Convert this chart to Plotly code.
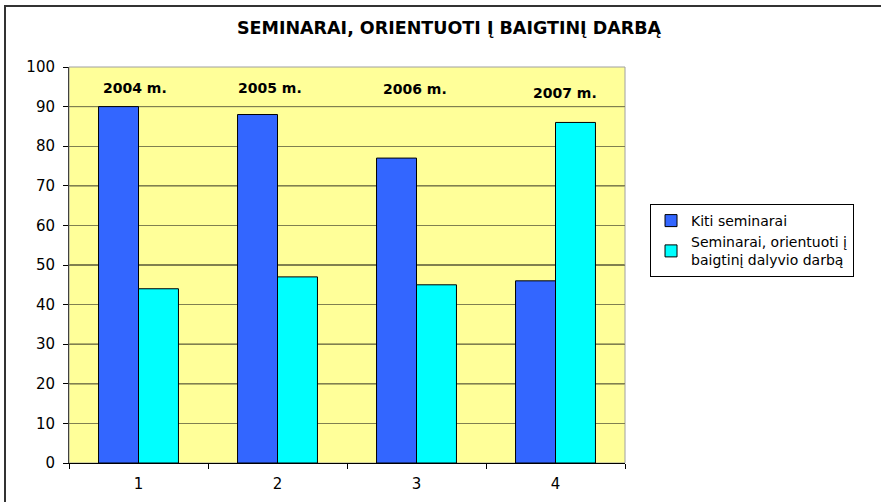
import plotly.graph_objects as go

categories = ["1", "2", "3", "4"]
kiti = [90, 88, 77, 46]
orientuoti = [44, 47, 45, 86]
year_labels = ["2004 m.", "2005 m.", "2006 m.", "2007 m."]
year_label_y = [94.7, 94.7, 94.5, 93.4]
year_label_dx = [-4, -8, -2, 9]
y_ticks = [0, 10, 20, 30, 40, 50, 60, 70, 80, 90, 100]
dark_grid = [20, 30, 50, 70, 90]

FONT = "DejaVu Sans, Verdana, sans-serif"

fig = go.Figure()
fig.add_trace(go.Bar(
    x=categories, y=kiti, name="Kiti seminarai",
    marker=dict(color="#3366FF", line=dict(color="#000000", width=1)),
))
fig.add_trace(go.Bar(
    x=categories, y=orientuoti, name="Seminarai, orientuoti į<br>baigtinį dalyvio darbą",
    marker=dict(color="#00FFFF", line=dict(color="#000000", width=1)),
))

for i, (lab, yy, dx) in enumerate(zip(year_labels, year_label_y, year_label_dx)):
    fig.add_annotation(x=i, y=yy, text="<b>" + lab + "</b>", showarrow=False,
                       xshift=dx, font=dict(family=FONT, size=14, color="#000000"))

shapes = []
for v in dark_grid:
    shapes.append(dict(type="line", xref="paper", yref="y", x0=0, x1=1, y0=v, y1=v,
                       line=dict(color="#000000", width=1), layer="below"))
# plot area border (gray)
shapes.append(dict(type="rect", xref="paper", yref="paper", x0=0, x1=1, y0=0, y1=1,
                   line=dict(color="#A0A0A0", width=1), layer="below"))
# outer chart frame
shapes.append(dict(type="rect", xref="paper", yref="paper",
                   x0=(5 - 69) / 556, x1=(900 - 69) / 556,
                   y0=(463 - 520) / 396, y1=(463 - 6) / 396,
                   line=dict(color="#333333", width=2), layer="below"))

fig.update_layout(
    width=881, height=502,
    margin=dict(l=69, r=256, t=67, b=39),
    paper_bgcolor="#FFFFFF",
    plot_bgcolor="#FFFF99",
    barmode="group",
    bargap=0.425, bargroupgap=0,
    title=dict(text="<b>SEMINARAI, ORIENTUOTI Į BAIGTINĮ DARBĄ</b>",
               x=449 / 881, xanchor="center", y=1 - 28 / 502, yanchor="middle",
               font=dict(family=FONT, size=17.5, color="#000000")),
    font=dict(family=FONT, size=15, color="#000000"),
    showlegend=True,
    legend=dict(x=1.045, y=(463 - 204) / 396, xanchor="left", yanchor="top",
                bordercolor="#000000", borderwidth=1, bgcolor="#FFFFFF",
                font=dict(family=FONT, size=14, color="#000000"),
                tracegroupgap=4, itemwidth=30),
    xaxis=dict(type="category", showgrid=False, ticks="outside", tickson="boundaries",
               ticklen=5, tickcolor="#000000", showline=True, linecolor="#000000",
               linewidth=1, tickfont=dict(family=FONT, size=15), zeroline=False,
               ticklabelstandoff=7, automargin=False),
    yaxis=dict(range=[0, 100], tickvals=y_ticks, ticks="outside", ticklen=5,
               tickcolor="#000000", showline=True, linecolor="#404040", linewidth=1,
               showgrid=True, gridcolor="#808050", gridwidth=1, zeroline=False,
               tickfont=dict(family=FONT, size=15), ticklabelstandoff=5,
               automargin=False),
    shapes=shapes,
)

fig.write_html("out.html", config={"displayModeBar": False},
               post_script="document.body.style.margin='0';")
